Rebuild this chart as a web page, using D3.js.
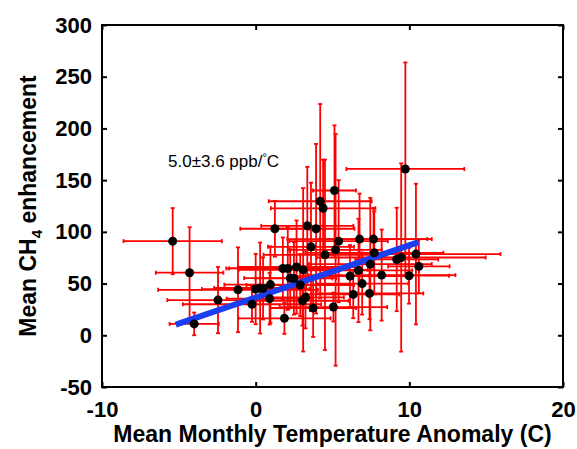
<!DOCTYPE html>
<html>
<head>
<meta charset="utf-8">
<script src="https://cdn.jsdelivr.net/npm/d3@7"></script>
<style>
  body { margin: 0; background: #fff; }
  svg { display: block; font-family: Arial, "Liberation Sans", sans-serif; }
</style>
</head>
<body>
<svg id="chart" width="577" height="449"></svg>
<script>
// mean monthly temperature anomaly (C) and its error
var tempAnomaly = [-5.4, -4.3, -4.0, -2.45, -1.15, -0.24, 0.0, 0.29, 0.48, 0.96,
    0.91, 1.25, 1.87, 1.77, 2.09, 2.25, 2.49, 2.66, 3.09, 2.9,
    3.05, 3.24, 3.36, 3.6, 3.74, 3.93, 4.2, 4.39, 4.51, 5.06,
    5.13, 5.2, 5.4, 6.14, 6.35, 6.69, 6.76, 6.93, 7.46, 7.41,
    7.67, 7.72, 8.2, 9.18, 9.47, 9.74, 9.98, 10.43, 10.62];
var tempError = [3.2, 2.2, 1.6, 3.3, 5.2, 4.5, 3.5, 3.0, 2.5, 3.0,
    2.8, 2.25, 3.0, 3.5, 4.0, 3.0, 2.5, 3.8, 4.2, 3.5,
    3.0, 2.5, 3.0, 2.8, 2.8, 2.5, 3.35, 3.4, 4.0, 3.5,
    1.4, 3.0, 3.2, 4.0, 3.0, 3.5, 4.7, 3.0, 4.0, 3.5,
    3.5, 4.5, 4.8, 2.7, 5.5, 3.84, 2.6, 5.5, 2.0];
// mean CH4 enhancement (ppb) and its error
var ch4Enhancement = [91, 60.5, 11, 34, 44, 30, 44.7, 45.7, 45.3, 49,
    35.4, 103, 16.4, 64.6, 64.6, 55.3, 55, 66, 63.3, 48.6,
    33.4, 36.7, 105.8, 85.5, 26.4, 103, 129.6, 122.8, 77.8, 27.3,
    140, 82.6, 91, 57.2, 39.5, 62.7, 93, 50, 68.8, 40.5,
    93, 79.7, 58.2, 73.3, 75.2, 160.8, 57.6, 78.5, 66.6];
var ch4Error = [32, 44, 11, 32, 41, 17, 34, 44, 30, 37,
    25, 27, 15, 30, 40, 28, 35, 45, 79, 30,
    24, 30, 57, 62, 28, 82, 94, 47, 92, 14,
    63, 112, 59, 30, 23, 50, 44, 30, 64, 25,
    30, 40, 44, 50, 91, 103, 27, 68, 26];

// fitted line end points
var fitX = [-5.2, 10.6];
var fitY = [10.3, 90];

var xTicks = [-10, 0, 10, 20];
var yTicks = [-50, 0, 50, 100, 150, 200, 250, 300];

var svg = d3.select("#chart");
var plotL = 102, plotR = 563, plotT = 25, plotB = 387;

var xScale = d3.scaleLinear().domain([-10, 20]).range([plotL, plotR]);
var yScale = d3.scaleLinear().domain([-50, 300]).range([plotB, plotT]);

var pts = tempAnomaly.map((t, i) => ({x: t, y: ch4Enhancement[i], xe: tempError[i], ye: ch4Error[i]}));

// error bars
var eb = svg.append("g").attr("stroke", "#ff0000").attr("stroke-width", 1.8);
var cap = 2;
pts.forEach(function (d) {
    var cx = xScale(d.x), cy = yScale(d.y);
    var x0 = xScale(d.x - d.xe), x1 = xScale(d.x + d.xe);
    var y0 = yScale(d.y - d.ye), y1 = yScale(d.y + d.ye);
    eb.append("line").attr("x1", x0).attr("x2", x1).attr("y1", cy).attr("y2", cy);
    eb.append("line").attr("x1", x0).attr("x2", x0).attr("y1", cy - cap).attr("y2", cy + cap);
    eb.append("line").attr("x1", x1).attr("x2", x1).attr("y1", cy - cap).attr("y2", cy + cap);
    eb.append("line").attr("x1", cx).attr("x2", cx).attr("y1", y0).attr("y2", y1);
    eb.append("line").attr("x1", cx - cap).attr("x2", cx + cap).attr("y1", y0).attr("y2", y0);
    eb.append("line").attr("x1", cx - cap).attr("x2", cx + cap).attr("y1", y1).attr("y2", y1);
});

// fit line
var fitLine = d3.line().x(d => xScale(d[0])).y(d => yScale(d[1]));
svg.append("path")
    .datum(fitX.map((v, i) => [v, fitY[i]]))
    .attr("d", fitLine)
    .attr("fill", "none")
    .attr("stroke", "#1a3ff2")
    .attr("stroke-width", 6);

// points
svg.append("g").selectAll("circle")
    .data(pts)
    .enter().append("circle")
    .attr("cx", d => xScale(d.x))
    .attr("cy", d => yScale(d.y))
    .attr("r", 4.5)
    .attr("fill", "#000");

// axes, ticks pointing inward on all four sides
function styleAxis(g) {
    g.select(".domain").remove();
    g.selectAll(".tick line").attr("stroke", "#000").attr("stroke-width", 2);
    g.selectAll("text").attr("font-size", 22).attr("font-weight", "bold").attr("fill", "#000")
        .attr("font-family", "Arial, 'Liberation Sans', sans-serif");
}
svg.append("g").attr("transform", "translate(0," + plotB + ")")
    .call(d3.axisBottom(xScale).tickValues(xTicks).tickSize(-5).tickPadding(14).tickFormat(d => String(d)))
    .call(styleAxis);
svg.append("g").attr("transform", "translate(0," + plotT + ")")
    .call(d3.axisTop(xScale).tickValues(xTicks).tickSize(-5).tickFormat(""))
    .call(styleAxis);
svg.append("g").attr("transform", "translate(" + plotL + ",0)")
    .call(d3.axisLeft(yScale).tickValues(yTicks).tickSize(-5).tickPadding(10).tickFormat(d => String(d)))
    .call(styleAxis);
svg.append("g").attr("transform", "translate(" + plotR + ",0)")
    .call(d3.axisRight(yScale).tickValues(yTicks).tickSize(-5).tickFormat(""))
    .call(styleAxis);

svg.append("rect")
    .attr("x", plotL).attr("y", plotT)
    .attr("width", plotR - plotL).attr("height", plotB - plotT)
    .attr("fill", "none").attr("stroke", "#000").attr("stroke-width", 2);

// labels
svg.append("text")
    .attr("x", (plotL + plotR) / 2).attr("y", 442)
    .attr("text-anchor", "middle")
    .attr("font-size", 23).attr("font-weight", "bold")
    .text("Mean Monthly Temperature Anomaly (C)");

var yl = svg.append("text")
    .attr("transform", "translate(36," + ((plotT + plotB) / 2) + ") rotate(-90)")
    .attr("text-anchor", "middle")
    .attr("font-size", 23).attr("font-weight", "bold");
yl.append("tspan").text("Mean CH");
yl.append("tspan").attr("font-size", 15).attr("dy", 6).text("4");
yl.append("tspan").attr("dy", -6).text(" enhancement");

var ann = svg.append("text")
    .attr("x", 168).attr("y", 167)
    .attr("font-size", 17);
ann.append("tspan").text("5.0±3.6 ppb/");
ann.append("tspan").attr("font-size", 11).attr("dy", -6).text("°");
ann.append("tspan").attr("dy", 6).text("C");
</script>
</body>
</html>
